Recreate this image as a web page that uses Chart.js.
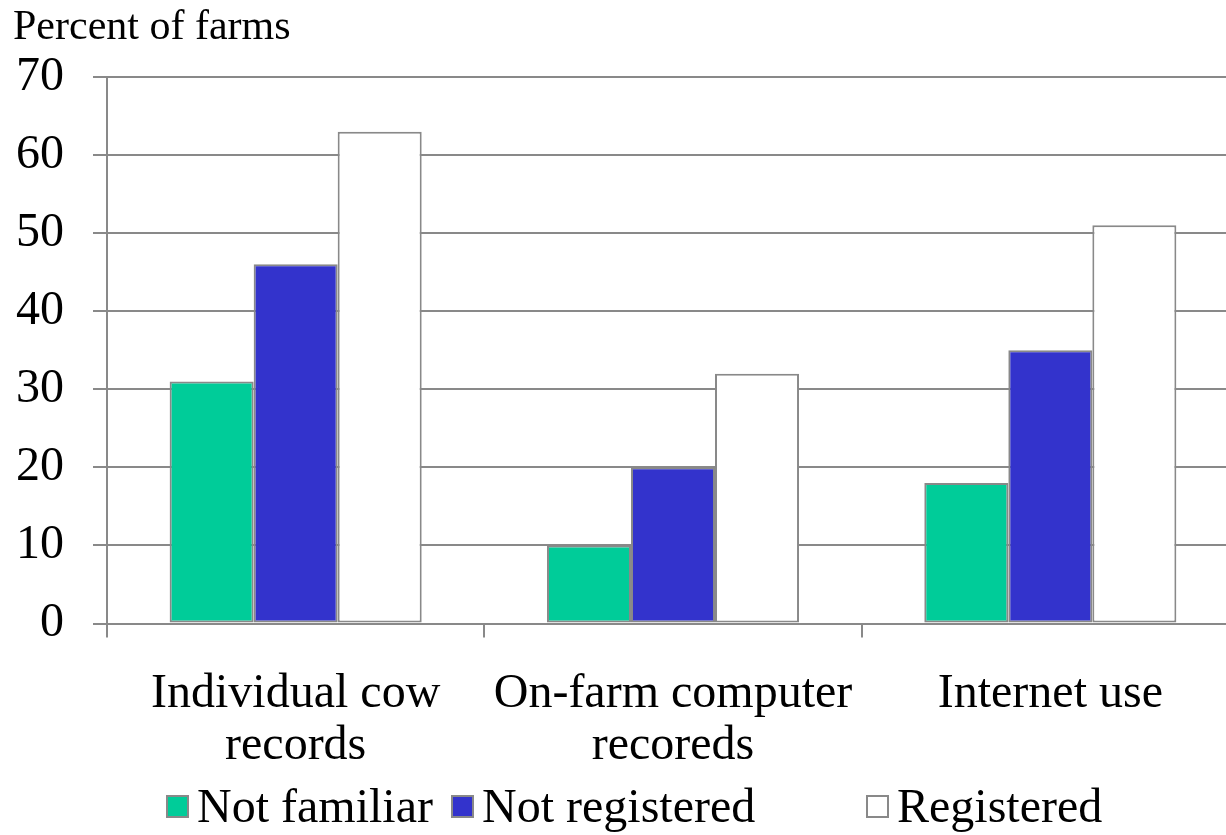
<!DOCTYPE html>
<html>
<head>
<meta charset="utf-8">
<title>Percent of farms</title>
<script src="https://cdn.jsdelivr.net/npm/chart.js@4.4.1/dist/chart.umd.min.js"></script>
<style>
  html, body { margin: 0; padding: 0; background: #ffffff; overflow: hidden; }
  #wrap { position: relative; width: 1226px; height: 835px; overflow: hidden; }
  canvas { display: block; }
</style>
</head>
<body>
<div id="wrap"><canvas id="chart" width="1242" height="835"></canvas></div>
<script>
// Categories (multi-line labels) and series values
const categories = [
  ['Individual cow', 'records'],
  ['On-farm computer', 'recoreds'],
  ['Internet use']
];
const notFamiliar   = [31, 10, 18];
const notRegistered = [46, 20, 35];
const registered    = [63, 32, 51];
const seriesNames   = ['Not familiar', 'Not registered', 'Registered'];
const yTicks        = [0, 10, 20, 30, 40, 50, 60, 70];

const SERIF = '"Liberation Serif", "Times New Roman", Times, serif';
const GRID = '#898989';
const fills = ['#00CC99', '#3333CC', '#FFFFFF'];

// Title in the top-left corner and a legend row along the bottom
const decorations = {
  id: 'decorations',
  afterDraw(chart, args, opts) {
    const ctx = chart.ctx;
    ctx.save();
    ctx.fillStyle = '#000';
    ctx.textBaseline = 'alphabetic';
    ctx.textAlign = 'left';
    ctx.font = opts.titleSize + 'px ' + SERIF;
    ctx.fillText(opts.title, opts.titleX, opts.titleY);

    ctx.font = '48px ' + SERIF;
    chart.data.datasets.forEach((ds, i) => {
      const x = opts.legendX[i];
      ctx.fillStyle = ds.backgroundColor;
      ctx.fillRect(x, opts.boxTop, opts.box, opts.box);
      ctx.strokeStyle = GRID;
      ctx.lineWidth = 2;
      ctx.strokeRect(x + 1, opts.boxTop + 1, opts.box - 2, opts.box - 2);
      ctx.fillStyle = '#000';
      ctx.fillText(ds.label, x + opts.box + 8, opts.legendBaseline);
    });
    ctx.restore();
  }
};

const mk = (i, data) => ({
  label: seriesNames[i],
  data: data,
  backgroundColor: fills[i],
  borderColor: GRID,
  borderWidth: 2,
  borderSkipped: false,
  barPercentage: 1.0,
  categoryPercentage: 0.668
});

new Chart(document.getElementById('chart'), {
  type: 'bar',
  data: {
    labels: categories,
    datasets: [mk(0, notFamiliar), mk(1, notRegistered), mk(2, registered)]
  },
  options: {
    responsive: false,
    animation: false,
    devicePixelRatio: 1,
    layout: { padding: { top: 77, left: 0, right: 3, bottom: 0 } },
    plugins: {
      legend: { display: false },
      tooltip: { enabled: false },
      decorations: {
        title: 'Percent of farms',
        titleSize: 42,
        titleX: 13,
        titleY: 39,
        legendX: [166, 451, 866],
        boxTop: 795,
        box: 23,
        legendBaseline: 822
      }
    },
    scales: {
      x: {
        offset: true,
        afterFit(s) { s.height = 211.5; },
        grid: {
          offset: true,
          drawOnChartArea: false,
          drawTicks: true,
          tickLength: 14,
          color: GRID,
          lineWidth: 2
        },
        border: { display: true, color: GRID, width: 2 },
        ticks: {
          color: '#000',
          padding: 30.5,
          maxRotation: 0,
          autoSkip: false,
          font: { family: SERIF, size: 48, lineHeight: 52 / 48 }
        }
      },
      y: {
        min: 0,
        max: 70,
        afterFit(s) { s.width = 107; },
        afterBuildTicks(s) { s.ticks = yTicks.map(v => ({ value: v })); },
        grid: {
          color: GRID,
          lineWidth: 2,
          drawTicks: true,
          tickLength: 14
        },
        border: { display: true, color: GRID, width: 2 },
        ticks: {
          color: '#000',
          padding: 29,
          font: { family: SERIF, size: 48 }
        }
      }
    }
  },
  plugins: [decorations]
});
</script>
</body>
</html>
